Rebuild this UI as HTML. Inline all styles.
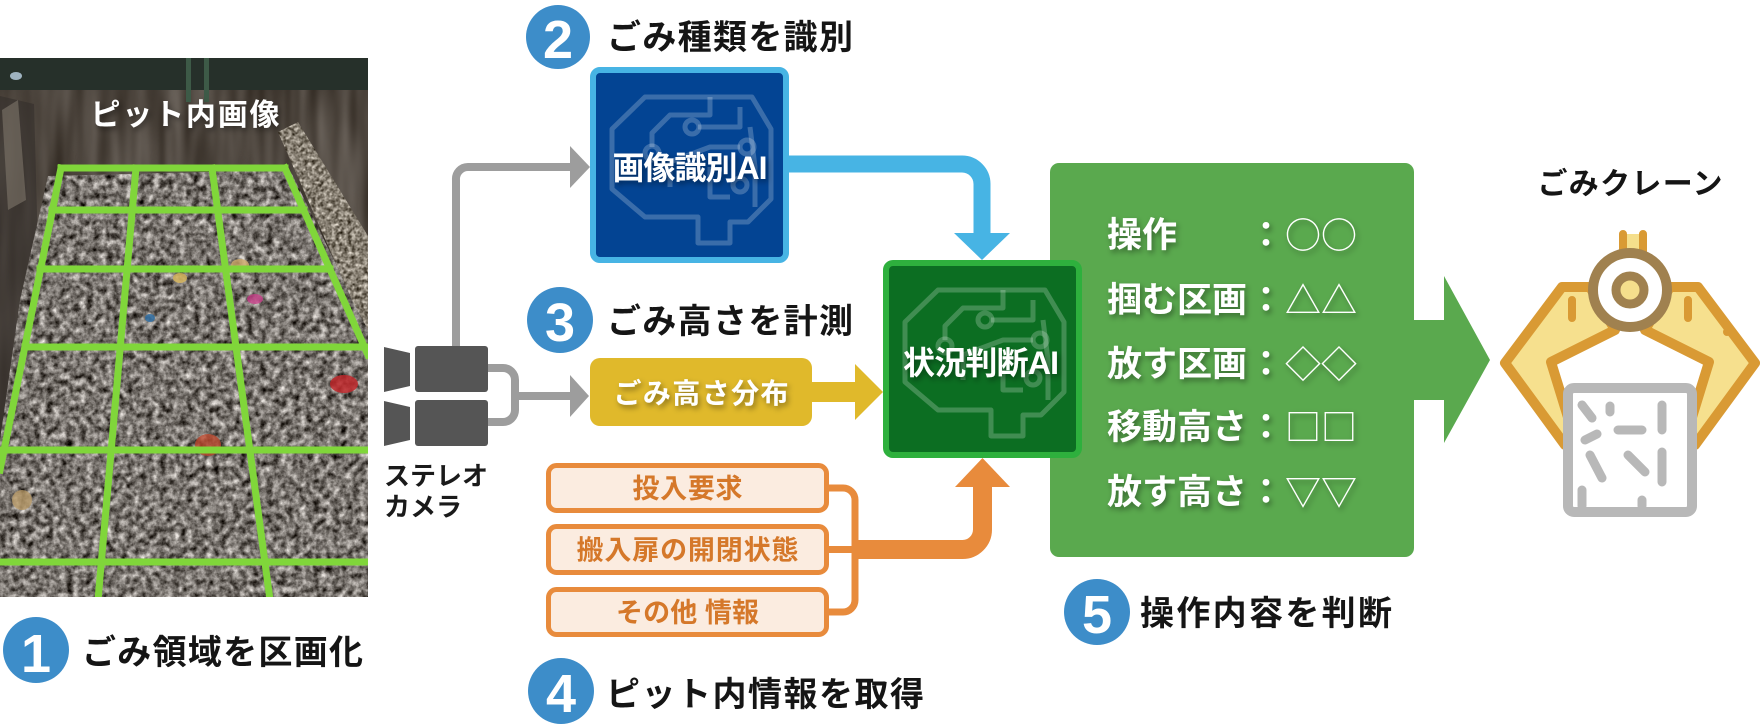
<!DOCTYPE html>
<html><head><meta charset="utf-8"><style>
html,body{margin:0;padding:0;background:#fff;}
body{width:1760px;height:726px;overflow:hidden;}
svg{display:block;}
</style></head><body>
<svg width="1760" height="726" viewBox="0 0 1760 726" xmlns="http://www.w3.org/2000/svg" font-family="'Liberation Sans','Noto Sans CJK JP',sans-serif">
<defs>
  <clipPath id="photo"><rect x="0" y="58" width="368" height="539"/></clipPath>
  <clipPath id="trashClip"><polygon points="48,176 290,170 368,330 368,597 0,597 0,440 20,300"/></clipPath>
  <clipPath id="rwClip"><polygon points="278,132 298,122 368,236 368,330 352,300"/></clipPath>
  <filter id="trashN" filterUnits="userSpaceOnUse" x="0" y="58" width="368" height="539" color-interpolation-filters="sRGB">
    <feTurbulence type="fractalNoise" baseFrequency="0.15" numOctaves="4" seed="4"/>
    <feColorMatrix type="matrix" values="1.1 0.35 0 0 -0.25  1.1 0.35 0 0 -0.27  1.1 0.35 0 0 -0.29  0 0 0 0 1"/>
  </filter>
  <filter id="wallN" filterUnits="userSpaceOnUse" x="0" y="58" width="368" height="539" color-interpolation-filters="sRGB">
    <feTurbulence type="fractalNoise" baseFrequency="0.06 0.008" numOctaves="2" seed="9"/>
    <feColorMatrix type="matrix" values="0.35 0.1 0 0 0.08  0.35 0.1 0 0 0.05  0.35 0.1 0 0 0.02  0 0 0 0 1"/>
  </filter>
  <filter id="rwN" filterUnits="userSpaceOnUse" x="260" y="110" width="108" height="230" color-interpolation-filters="sRGB">
    <feTurbulence type="fractalNoise" baseFrequency="0.25" numOctaves="3" seed="2"/>
    <feColorMatrix type="matrix" values="1.0 0.3 0 0 -0.12  1.0 0.3 0 0 -0.15  1.0 0.3 0 0 -0.2  0 0 0 0 1"/>
  </filter>
  <filter id="ds" x="-20%" y="-60%" width="140%" height="220%">
    <feDropShadow dx="2" dy="3" stdDeviation="3" flood-color="#000" flood-opacity="0.4"/>
  </filter>
</defs>

<!-- ===== Photo ===== -->
<g clip-path="url(#photo)">
  <rect x="0" y="58" width="368" height="539" fill="#4b4540"/>
  <rect x="0" y="58" width="368" height="539" filter="url(#wallN)"/>
  <rect x="0" y="58" width="368" height="32" fill="#26302a"/>
  <rect x="186" y="58" width="5" height="44" fill="#3d5a47"/>
  <rect x="204" y="58" width="5" height="44" fill="#3d5a47"/>
  <ellipse cx="16" cy="76" rx="6" ry="4" fill="#9fb3c0"/>
  <polygon points="0,96 34,104 44,470 0,480" fill="#342f2b" opacity="0.6"/>
  <polygon points="2,110 18,100 26,200 8,210" fill="#7e766b" opacity="0.6"/>
  <g clip-path="url(#trashClip)">
    <rect x="0" y="58" width="368" height="539" filter="url(#trashN)"/>
    <ellipse cx="344" cy="384" rx="14" ry="9" fill="#c0282c" opacity="0.85"/>
    <ellipse cx="208" cy="445" rx="13" ry="11" fill="#b8452a" opacity="0.8"/>
    <ellipse cx="240" cy="265" rx="9" ry="6" fill="#d5b070" opacity="0.8"/>
    <ellipse cx="180" cy="278" rx="7" ry="5" fill="#d8b558" opacity="0.8"/>
    <ellipse cx="255" cy="299" rx="8" ry="5" fill="#c8408a" opacity="0.8"/>
    <ellipse cx="22" cy="500" rx="10" ry="10" fill="#b89a68" opacity="0.8"/>
    <ellipse cx="150" cy="318" rx="5" ry="4" fill="#2d6fa8" opacity="0.8"/>
  </g>
  <g clip-path="url(#rwClip)">
    <rect x="260" y="110" width="108" height="230" filter="url(#rwN)"/>
  </g>
  <!-- grid -->
  <g stroke="#80d63a" stroke-width="7" fill="none" stroke-linecap="square">
    <line x1="61" y1="168" x2="285" y2="168"/>
    <line x1="52" y1="210" x2="304" y2="210"/>
    <line x1="40" y1="269" x2="330" y2="269"/>
    <line x1="25" y1="347" x2="368" y2="347"/>
    <line x1="0" y1="450" x2="368" y2="450"/>
    <line x1="0" y1="562" x2="368" y2="562"/>
    <line x1="61" y1="168" x2="0" y2="470"/>
    <line x1="136" y1="168" x2="98" y2="600"/>
    <line x1="212" y1="168" x2="270" y2="600"/>
    <line x1="285" y1="168" x2="368" y2="355"/>
  </g>
  <text x="185" y="125" font-size="30" font-weight="700" fill="#fff" text-anchor="middle" textLength="189" lengthAdjust="spacing" filter="url(#ds)">ピット内画像</text>
</g>

<!-- ===== Number circles ===== -->
<g fill="#3d8dc9">
  <circle cx="36" cy="650" r="33"/>
  <circle cx="558" cy="37" r="32"/>
  <circle cx="560" cy="320" r="33"/>
  <circle cx="561" cy="691" r="33"/>
  <circle cx="1097" cy="612" r="33"/>
</g>
<g fill="#fff" font-size="54" font-weight="700" text-anchor="middle" font-family="'Liberation Sans',sans-serif">
  <text x="36" y="672">1</text>
  <text x="558" y="58">2</text>
  <text x="560" y="341">3</text>
  <text x="561" y="712">4</text>
  <text x="1097" y="633">5</text>
</g>
<g fill="#151515" font-size="34" font-weight="700">
  <text x="82" y="664" textLength="281" lengthAdjust="spacing">ごみ領域を区画化</text>
  <text x="607" y="49" textLength="246" lengthAdjust="spacing">ごみ種類を識別</text>
  <text x="607" y="333" textLength="246" lengthAdjust="spacing">ごみ高さを計測</text>
  <text x="606" y="706" textLength="318" lengthAdjust="spacing">ピット内情報を取得</text>
  <text x="1140" y="625" textLength="252" lengthAdjust="spacing">操作内容を判断</text>
</g>

<!-- ===== Camera ===== -->
<g fill="#555">
  <rect x="415" y="346" width="73" height="46" rx="3"/>
  <polygon points="384,347 410,353 410,386 384,392"/>
  <rect x="415" y="400" width="73" height="46" rx="3"/>
  <polygon points="384,401 410,407 410,440 384,446"/>
</g>
<g fill="#1a1a1a" font-size="26" font-weight="700">
  <text x="384" y="485" textLength="104" lengthAdjust="spacing">ステレオ</text>
  <text x="384" y="516" textLength="78" lengthAdjust="spacing">カメラ</text>
</g>

<!-- gray connectors -->
<g stroke="#9d9d9d" stroke-width="8" fill="none">
  <path d="M456 346 V180 A12 12 0 0 1 468 167 H572"/>
  <path d="M488 368 H503 A12 12 0 0 1 515 380 V410 A12 12 0 0 1 503 422 H488"/>
  <path d="M515 396 H572"/>
</g>
<g fill="#9d9d9d">
  <polygon points="570,146 570,188 590,167"/>
  <polygon points="570,375 570,417 589,396"/>
</g>

<!-- ===== Blue box ===== -->
<rect x="593" y="70" width="193" height="190" rx="7" fill="#034493" stroke="#47b4e4" stroke-width="6"/>
<g transform="translate(590,67)" stroke="#ffffff" stroke-opacity="0.22" stroke-width="5" fill="none" stroke-linejoin="round">
  <path d="M22 62 L55 30 L162 30 L181 62 L181 132 L158 155 L140 155 L140 176 L108 176 L108 150 L55 150 L22 122 Z"/>
  <path d="M62 80 L62 66 L80 48 L100 48"/><circle cx="62" cy="86" r="7"/>
  <path d="M100 48 L120 48 L120 30"/><circle cx="102" cy="60" r="7"/>
  <path d="M108 60 L150 60 L150 40"/>
  <path d="M80 120 L80 95 L120 80 L150 80"/><circle cx="157" cy="80" r="7"/>
  <path d="M120 100 L120 130 L140 130"/><circle cx="150" cy="118" r="7"/>
  <path d="M160 60 L165 100 L165 140"/>
</g>
<text x="690" y="179" font-size="32" font-weight="700" fill="#fff" text-anchor="middle" textLength="155" lengthAdjust="spacing" filter="url(#ds)">画像識別AI</text>

<!-- blue arrow -->
<path d="M789 164 H962 A20 20 0 0 1 982 184 V236" stroke="#47b4e4" stroke-width="17" fill="none"/>
<polygon points="954,233 1010,233 982,260" fill="#47b4e4"/>

<!-- ===== Yellow box ===== -->
<rect x="590" y="358" width="222" height="68" rx="10" fill="#e0b92b"/>
<text x="701" y="403" font-size="28" font-weight="700" fill="#fff" text-anchor="middle" textLength="175" lengthAdjust="spacing" filter="url(#ds)">ごみ高さ分布</text>
<rect x="810" y="382" width="47" height="20" fill="#e0b92b"/>
<polygon points="855,364 855,420 883,392" fill="#e0b92b"/>

<!-- ===== Orange boxes ===== -->
<g fill="#fbece0" stroke="#e88b3c" stroke-width="5">
  <rect x="548.5" y="465.5" width="278" height="45" rx="8"/>
  <rect x="548.5" y="526.5" width="278" height="46" rx="8"/>
  <rect x="548.5" y="589.5" width="278" height="45" rx="8"/>
</g>
<g fill="#d5782a" font-size="27" font-weight="700" text-anchor="middle">
  <text x="687.5" y="498" textLength="110" lengthAdjust="spacing">投入要求</text>
  <text x="687.5" y="559.5" textLength="222" lengthAdjust="spacing">搬入扉の開閉状態</text>
  <text x="687.5" y="622" textLength="143" lengthAdjust="spacing">その他 情報</text>
</g>
<g stroke="#e88b3c" fill="none">
  <path d="M829 488 H843 A12 12 0 0 1 855 500 V600 A12 12 0 0 1 843 612 H829" stroke-width="7"/>
  <path d="M829 549.5 H860" stroke-width="7"/>
  <path d="M852 549.5 H962 A20 20 0 0 0 982.5 529.5 V484" stroke-width="19"/>
</g>
<polygon points="955,487 1010,487 982.5,458" fill="#e88b3c"/>

<!-- ===== Green panel ===== -->
<rect x="1050" y="163" width="364" height="394" rx="9" fill="#5aa94e"/>
<polygon points="1410,320 1444,320 1444,276 1490,360 1444,443 1444,400 1410,400" fill="#5aa94e"/>
<g fill="#fff" font-size="35" font-weight="700" filter="url(#ds)">
  <text x="1107" y="247" textLength="70" lengthAdjust="spacing">操作</text>
  <text x="1107" y="312" textLength="140" lengthAdjust="spacing">掴む区画</text>
  <text x="1107" y="376" textLength="140" lengthAdjust="spacing">放す区画</text>
  <text x="1107" y="439" textLength="140" lengthAdjust="spacing">移動高さ</text>
  <text x="1107" y="504" textLength="140" lengthAdjust="spacing">放す高さ</text>
  <g text-anchor="middle" font-family="'Noto Sans CJK JP',sans-serif">
    <text x="1266" y="247">：</text>
    <text x="1266" y="312">：</text>
    <text x="1266" y="376">：</text>
    <text x="1266" y="439">：</text>
    <text x="1266" y="504">：</text>
  </g>
</g>
<g fill="#fff" font-size="36" font-weight="400" filter="url(#ds)" font-family="'Noto Sans CJK JP','Noto Sans CJK SC',sans-serif">
  <text x="1285" y="248">○○</text>
  <text x="1285" y="313">△△</text>
  <text x="1285" y="377">◇◇</text>
  <text x="1285" y="440">□□</text>
  <text x="1285" y="505">▽▽</text>
</g>

<!-- ===== Green AI box (on top of panel) ===== -->
<rect x="886" y="263" width="193" height="192" rx="7" fill="#0c6e22" stroke="#2eb03d" stroke-width="6"/>
<g transform="translate(883,260)" stroke="#ffffff" stroke-opacity="0.22" stroke-width="5" fill="none" stroke-linejoin="round">
  <path d="M22 62 L55 30 L162 30 L181 62 L181 132 L158 155 L140 155 L140 176 L108 176 L108 150 L55 150 L22 122 Z"/>
  <path d="M62 80 L62 66 L80 48 L100 48"/><circle cx="62" cy="86" r="7"/>
  <path d="M100 48 L120 48 L120 30"/><circle cx="102" cy="60" r="7"/>
  <path d="M108 60 L150 60 L150 40"/>
  <path d="M80 120 L80 95 L120 80 L150 80"/><circle cx="157" cy="80" r="7"/>
  <path d="M120 100 L120 130 L140 130"/><circle cx="150" cy="118" r="7"/>
  <path d="M160 60 L165 100 L165 140"/>
</g>
<text x="981" y="374" font-size="32" font-weight="700" fill="#fff" text-anchor="middle" textLength="156" lengthAdjust="spacing" filter="url(#ds)">状況判断AI</text>

<!-- ===== Crane ===== -->
<text x="1630" y="194" font-size="30" font-weight="700" fill="#151515" text-anchor="middle" textLength="185" lengthAdjust="spacing">ごみクレーン</text>
<g stroke-linejoin="round" stroke-linecap="round">
  <rect x="1623" y="234" width="20" height="26" fill="#f5df8c"/>
  <path d="M1623 234 V256 M1643 234 V256" stroke="#d99a34" stroke-width="8"/>
  <polygon points="1590,287 1562,287 1505,363 1565,445 1575,440 1551,362 1615,330" fill="#f6e08e" stroke="#d99a34" stroke-width="10"/>
  <polygon points="1670,287 1698,287 1755,363 1695,445 1685,440 1709,362 1645,330" fill="#f6e08e" stroke="#d99a34" stroke-width="10"/>
  <path d="M1572 300 V318 M1688 300 V318" stroke="#d99a34" stroke-width="8"/>
  <circle cx="1727" cy="332" r="4" fill="#d99a34"/>
  <circle cx="1630" cy="290" r="37" fill="#fff" stroke="#a0814f" stroke-width="10"/>
  <circle cx="1630" cy="290" r="14" fill="#f5df8c" stroke="#a0814f" stroke-width="9"/>
  <rect x="1568" y="388" width="124" height="124" rx="6" fill="#fff" stroke="#b8b8b8" stroke-width="10"/>
  <path d="M1582 405 L1592 418 M1585 440 L1597 434 M1590 455 L1602 478 M1618 430 L1642 430 M1662 405 V430 M1628 455 L1645 472 M1662 452 V482 M1642 500 V506 M1582 490 V506 M1610 406 V412" stroke="#b8b8b8" stroke-width="9" fill="none"/>
</g>
</svg>
</body></html>
